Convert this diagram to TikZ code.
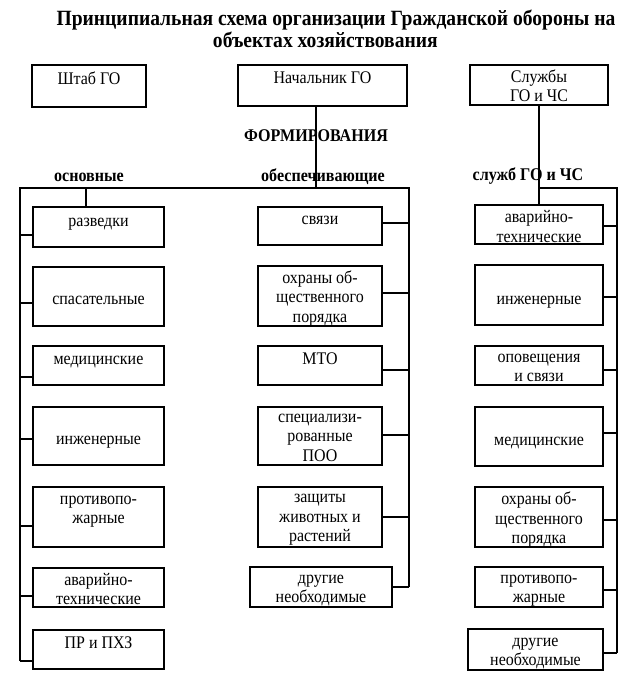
\documentclass[tikz,border=0pt]{standalone}
\usepackage{fontspec}
\setmainfont{Liberation Serif}[FakeStretch=0.9]
\newcommand\bx[7]{%
  \pgfmathsetmacro\bxw{(#4-#2)*0.75}%
  \pgfmathsetmacro\bxh{(#5-#3)*0.75}%
  \node[box, minimum width=\bxw pt, minimum height=\bxh pt] (#1) at ({(#2+#4)/2},{(#3+#5)/2}) {};%
  \node[lbl] (#1t) at ({(#2+#4)/2},{#6+3.5}) {#7};%
}
\newcommand\stubW[2]{\coordinate (#1s) at (20,#2); \draw[ln] (#1s) -- (#1s -| #1.west);}
\newcommand\stubM[2]{\coordinate (#1s) at (409,#2); \draw[ln] (#1s) -- (#1s -| #1.east);}
\newcommand\stubE[2]{\coordinate (#1s) at (617,#2); \draw[ln] (#1s) -- (#1s -| #1.east);}
\begin{document}
\begin{tikzpicture}[x=0.75pt,y=-0.75pt,
  box/.style={draw, line width=0.85pt, inner sep=0pt, rectangle},
  lbl/.style={font=\fontsize{13.3}{14.6}\selectfont, align=center, inner sep=0pt,
    execute at begin node={\strut}, execute at end node={\strut}},
  hd/.style={font=\fontsize{13.4}{15}\selectfont\bfseries, inner sep=0pt, text height=9pt, text depth=2.5pt},
  ttl/.style={font=\fontsize{16.3}{16.5}\selectfont\bfseries, align=center, inner sep=0pt},
  ln/.style={line width=0.85pt}]
\useasboundingbox (0,0) rectangle (634,691);
\fill[white] (0,0) rectangle (634,691);

\node[ttl] (title) at (336,29) {Принципиальная схема организации Гражданской обороны на\\объектах хозяйствования\hspace*{16pt}};

% top boxes
\bx{shtab}{32}{65}{146}{107}{77}{Штаб ГО}
\bx{nach}{238}{65}{407}{106}{76}{Начальник ГО}
\bx{sluzh}{470}{65}{608}{105}{85}{Службы\\ГО и ЧС}

% left column
\bx{razv}{33}{207}{164}{247}{219}{разведки}
\bx{spas}{33}{267}{164}{326}{297}{спасательные}
\bx{medL}{33}{346}{164}{385}{357}{медицинские}
\bx{ingL}{33}{407}{164}{465}{437}{инженерные}
\bx{protL}{33}{487}{164}{547}{509}{противопо-\\жарные}
\bx{avL}{33}{568}{164}{607}{588.5}{аварийно-\\технические}
\bx{pr}{33}{630}{164}{669}{641}{ПР и ПХЗ}

% middle column
\bx{svz}{258}{207}{382}{245}{217}{связи}
\bx{ohrM}{258}{266}{382}{326}{296}{охраны об-\\щественного\\порядка}
\bx{mto}{258}{346}{382}{385}{357}{МТО}
\bx{spec}{258}{407}{382}{465}{437}{специализи-\\рованные\\ПОО}
\bx{zash}{258}{487}{382}{547}{517.5}{защиты\\животных и\\растений}
\bx{drM}{250}{567}{392}{607}{588}{другие\\необходимые}

% right column
\bx{avR}{475}{205}{603}{244}{226}{аварийно-\\технические}
\bx{ingR}{475}{265}{603}{325}{297}{инженерные}
\bx{opov}{475}{346}{603}{385}{367.5}{оповещения\\и связи}
\bx{medR}{475}{407}{603}{466}{438}{медицинские}
\bx{ohrR}{475}{487}{603}{547}{517.5}{охраны об-\\щественного\\порядка}
\bx{protR}{475}{567}{603}{607}{588.5}{противопо-\\жарные}
\bx{drR}{468}{629}{603}{670}{651.5}{другие\\необходимые}

% connectors, left/middle bracket
\coordinate (fm) at (316,188);
\coordinate (tl) at (20,188);
\coordinate (tr) at (409,188);
\coordinate (bl) at (20,661);
\coordinate (br) at (409,587);
\coordinate (r0) at (86,188);
\draw[ln] (fm |- nach.south) -- (fm);
\draw[ln] (bl) -- (tl) -- (tr) -- (br);
\draw[ln] (r0) -- (r0 |- razv.north);
\stubW{razv}{235}
\stubW{spas}{303}
\stubW{medL}{377}
\stubW{ingL}{439}
\stubW{protL}{526}
\stubW{avL}{596}
\stubW{pr}{661}
\stubM{svz}{223}
\stubM{ohrM}{293}
\stubM{mto}{370}
\stubM{spec}{435}
\stubM{zash}{517}
\stubM{drM}{587}

% right bracket
\coordinate (rv) at (539,188);
\coordinate (rr) at (617,188);
\coordinate (rb) at (617,653);
\draw[ln] (rv |- sluzh.south) -- (rv |- avR.north);
\draw[ln] (rv) -- (rr) -- (rb);
\stubE{avR}{226}
\stubE{ingR}{297}
\stubE{opov}{370}
\stubE{medR}{433}
\stubE{ohrR}{520}
\stubE{protR}{590}
\stubE{drR}{653}

% headings
\node[hd] (form) at (316,137) {ФОРМИРОВАНИЯ};
\node[hd] (osn) at (89,177) {основные};
\node[hd] (obes) at (323,177) {обеспечивающие};
\node[hd] (slz) at (528,176) {служб ГО и ЧС};
\end{tikzpicture}
\end{document}
